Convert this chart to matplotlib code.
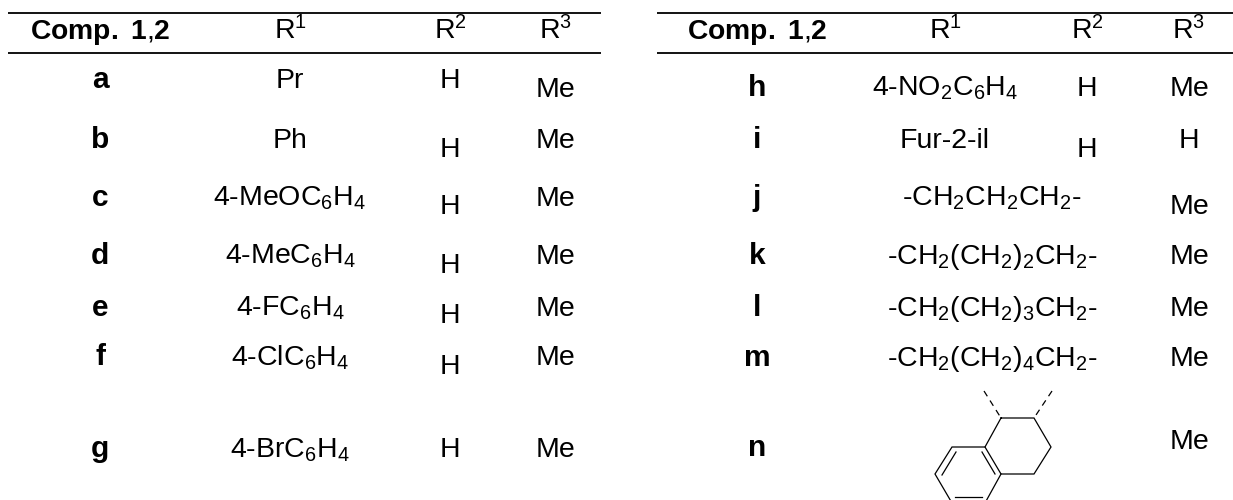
import matplotlib
matplotlib.use("Agg")
import matplotlib.pyplot as plt

plt.rcParams['font.family'] = ['Liberation Sans', 'DejaVu Sans']
plt.rcParams['mathtext.fontset'] = 'custom'
plt.rcParams['mathtext.rm'] = 'Liberation Sans'
plt.rcParams['mathtext.it'] = 'Liberation Sans:italic'
plt.rcParams['mathtext.bf'] = 'Liberation Sans:bold'
plt.rcParams['mathtext.default'] = 'regular'

# ---- table content ----
header_comp = r"$\mathbf{Comp.}$ $\mathbf{1}$,$\mathbf{2}$"
header_r = ["R$^{1}$", "R$^{2}$", "R$^{3}$"]

left_comp = ["a", "b", "c", "d", "e", "f", "g"]
left_r1 = ["Pr", "Ph", "4-MeOC$_{6}$H$_{4}$", "4-MeC$_{6}$H$_{4}$",
           "4-FC$_{6}$H$_{4}$", "4-ClC$_{6}$H$_{4}$", "4-BrC$_{6}$H$_{4}$"]
left_r2 = ["H", "H", "H", "H", "H", "H", "H"]
left_r3 = ["Me", "Me", "Me", "Me", "Me", "Me", "Me"]

right_comp = ["h", "i", "j", "k", "l", "m", "n"]
right_r1 = ["4-NO$_{2}$C$_{6}$H$_{4}$", "Fur-2-il", "-CH$_{2}$CH$_{2}$CH$_{2}$-",
            "-CH$_{2}$(CH$_{2}$)$_{2}$CH$_{2}$-", "-CH$_{2}$(CH$_{2}$)$_{3}$CH$_{2}$-",
            "-CH$_{2}$(CH$_{2}$)$_{4}$CH$_{2}$-", ""]
right_r2 = ["H", "H", "", "", "", "", ""]
right_r3 = ["Me", "H", "Me", "Me", "Me", "Me", "Me"]

# ---- layout (pixels) ----
W, H = 1233, 500
left_x = [100, 290, 450, 556]
right_x = [757, 945, 1087, 1189]
span_x = 992
header_y = 39
left_y = [88, 148, 206, 264, 316, 365, 457]
left_r2_y = [88, 157, 214, 273, 323, 374, 457]
left_r3_y = [97, 148, 206, 264, 316, 365, 457]
right_y = [96, 148, 206, 264, 316, 366, 456]
right_r2_y = [96, 157, 0, 0, 0, 0, 0]
right_r3_y = [96, 148, 214, 264, 316, 366, 449]
rules = [(8, 601, 13), (8, 601, 53), (657, 1233, 13), (657, 1233, 53)]
fs = 20.5
fs_bold = 21.5
fs_header = 20.3

# tetralin fragment, pixel coordinates
ring = [(1001, 418), (1034, 418), (1051, 447), (1034, 474), (1001, 474), (985, 447), (1001, 418)]
arom = [(985, 447), (952, 447), (935, 474), (952, 503), (985, 503), (1001, 474)]
inner = [[(956, 452), (942, 475)], [(955, 497), (982, 497)], [(982, 452), (995, 474)]]
dash = [[(984, 391), (1001, 418)], [(1052, 391), (1034, 418)]]

fig = plt.figure(figsize=(W / 100, H / 100), dpi=100, facecolor='white')
ax = fig.add_axes([0, 0, 1, 1])
ax.set_xlim(0, W)
ax.set_ylim(H, 0)
ax.axis('off')

for x0, x1, y in rules:
    ax.plot([x0, x1], [y, y], color='black', lw=1.3, solid_capstyle='butt')


def put(x, y, s, size=fs, **kw):
    if s:
        ax.text(x, y, s, ha='center', va='baseline', fontsize=size, color='black', **kw)


for xs in (left_x, right_x):
    put(xs[0], header_y, header_comp, size=fs_header)
    for x, s in zip(xs[1:], header_r):
        put(x, header_y, s)

for i in range(7):
    put(left_x[0], left_y[i], left_comp[i], size=fs_bold, fontweight='bold')
    put(left_x[1], left_y[i], left_r1[i])
    put(left_x[2], left_r2_y[i], left_r2[i])
    put(left_x[3], left_r3_y[i], left_r3[i])
    put(right_x[0], right_y[i], right_comp[i], size=fs_bold, fontweight='bold')
    r1x = right_x[1] if i < 2 else span_x
    put(r1x, right_y[i], right_r1[i])
    put(right_x[2], right_r2_y[i], right_r2[i])
    put(right_x[3], right_r3_y[i], right_r3[i])

for seg in [ring, arom] + inner:
    ax.plot(*zip(*seg), color='black', lw=0.9, solid_joinstyle='miter')
for seg in dash:
    ax.plot(*zip(*seg), color='black', lw=0.9, linestyle=(0, (5, 4)))

fig.savefig("out.png", dpi=100)
